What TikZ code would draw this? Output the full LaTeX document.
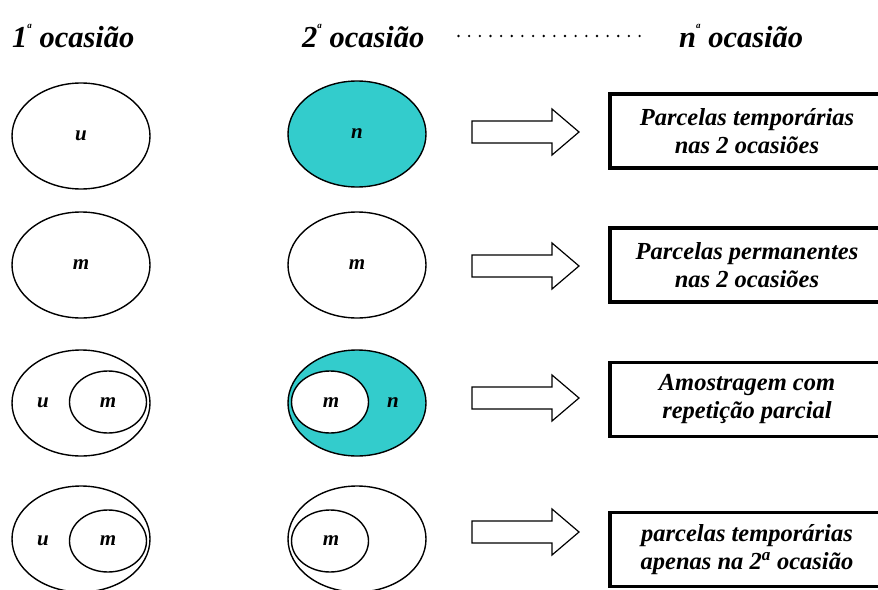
\documentclass[tikz,border=0pt]{standalone}
\usepackage{fontspec}
\setmainfont{Liberation Serif}
\usetikzlibrary{shapes.geometric}
\definecolor{tcyan}{RGB}{51,204,204}
\begin{document}
\begin{tikzpicture}[x=1pt,y=-1pt,
  oval/.style={draw, ellipse, line width=1.4pt, minimum width=138pt, minimum height=106pt, inner sep=0pt, font=\bfseries\itshape\fontsize{21}{24}\selectfont},
  inoval/.style={draw, ellipse, line width=1.4pt, minimum width=77pt, minimum height=62pt, inner sep=0pt, fill=white},
  lbl/.style={inner sep=0pt, font=\bfseries\itshape\fontsize{21}{24}\selectfont},
  resbox/.style={draw, line width=3.2pt, minimum width=274pt, minimum height=74pt, inner sep=0pt, align=center, font=\bfseries\itshape\fontsize{24.5}{28}\selectfont},
  headtxt/.style={font=\bfseries\itshape\fontsize{30.5}{34}\selectfont, anchor=base west, inner sep=0pt},
  blockarrow/.style={draw, line width=1.2pt, fill=white}]
\useasboundingbox (0,0) rectangle (878,589);
\clip (0,0) rectangle (878,589);
\newcommand{\supa}{\raisebox{0.6em}{\fontsize{9}{9}\selectfont a}}
% headers
\node[headtxt] (h1) at (12,47) {1\supa\ ocasião};
\node[headtxt] (h2) at (302,47) {2\supa\ ocasião};
\node[headtxt] (hn) at (679,47) {n\supa\ ocasião};
\draw[line width=2.6pt, line cap=round, dash pattern=on 0pt off 10.65pt] (458.5,36) -- (650,36);
% row 1
\node[oval] (a1) at (81,136) {u};
\node[oval, fill=tcyan] (b1) at (357,134) {n};
% row 2
\node[oval] (a2) at (81,265) {m};
\node[oval] (b2) at (357,265) {m};
% row 3
\node[oval] (a3) at (81,403) {};
\node[inoval] (a3i) at (108,402) {};
\node[lbl] at (43,403) {u};
\node[lbl] at (108,403) {m};
\node[oval, fill=tcyan] (b3) at (357,403) {};
\node[inoval] (b3i) at (330,402) {};
\node[lbl] at (331,403) {m};
\node[lbl] at (393,403) {n};
% row 4
\node[oval] (a4) at (81,539) {};
\node[inoval] (a4i) at (108,541) {};
\node[lbl] at (43,541) {u};
\node[lbl] at (108,541) {m};
\node[oval] (b4) at (357,539) {};
\node[inoval] (b4i) at (330,541) {};
\node[lbl] at (331,541) {m};
% arrows
\foreach \yc in {132,266,398,532}{
  \draw[blockarrow] (472,\yc-11) -- (552,\yc-11) -- (552,\yc-23) -- (579,\yc) -- (552,\yc+23) -- (552,\yc+11) -- (472,\yc+11) -- cycle;
}
% result boxes
\node[resbox] (r1) at (747,131) {Parcelas temporárias\\nas 2 ocasiões};
\node[resbox] (r2) at (747,265) {Parcelas permanentes\\nas 2 ocasiões};
\node[resbox] (r3) at (747,399.5) {Amostragem com\\repetição parcial};
\node[resbox] (r4) at (747,549.5) {parcelas temporárias\\apenas na 2\textsuperscript{a} ocasião};
\end{tikzpicture}
\end{document}
